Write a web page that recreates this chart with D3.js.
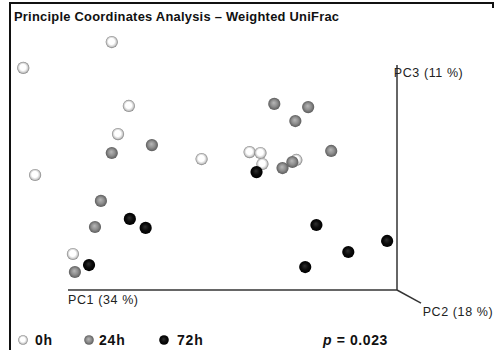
<!DOCTYPE html>
<html>
<head>
<meta charset="utf-8">
<script src="https://cdn.jsdelivr.net/npm/d3@7/dist/d3.min.js"></script>
<style>
  html, body { margin: 0; padding: 0; background: #fff; }
  svg { display: block; font-family: "Liberation Sans", Arial, sans-serif; }
</style>
</head>
<body>
<svg id="chart" width="494" height="350"></svg>
<script>
// Projected PCoA coordinates (PC1 horizontal, PC3 vertical, arbitrary units)
const groups = ["0h", "24h", "72h"];
const pc1_0h  = [13.3, -13.6, 18.5, 15.2, -10.0, 40.6, 55.2, 58.5, 59.1, 69.4, 1.5];
const pc3_0h  = [110.2, 98.7, 81.8, 69.3, 51.1, 58.2, 61.3, 60.9, 56.0, 57.8, 16.0];
const pc1_24h = [62.7, 73.0, 69.1, 80.0, 25.5, 13.3, 65.2, 68.2, 10.0, 8.2, 2.1];
const pc3_24h = [82.7, 81.3, 75.1, 61.8, 64.4, 60.9, 54.2, 56.9, 39.6, 28.0, 8.0];
const pc1_72h = [57.3, 18.8, 23.6, 6.4, 75.5, 97.0, 85.2, 72.1];
const pc3_72h = [52.4, 31.6, 27.6, 11.1, 28.9, 21.8, 16.9, 10.2];
const axisLabels = ["PC1 (34 %)", "PC2 (18 %)", "PC3 (11 %)"];
const title = "Principle Coordinates Analysis \u2013 Weighted UniFrac";
const pValue = "0.023";

const svg = d3.select("#chart");
const x = d3.scaleLinear().domain([0, 100]).range([68, 397]);
const y = d3.scaleLinear().domain([0, 100]).range([290, 65]);

// gradients
const defs = svg.append("defs");
const gradSpecs = {
  "0h":  [[0, "#ffffff"], [0.5, "#ffffff"], [0.78, "#cfcfcf"], [1, "#7a7a7a"]],
  "24h": [[0, "#b8b8b8"], [0.55, "#8e8e8e"], [1, "#5c5c5c"]],
  "72h": [[0, "#303030"], [0.55, "#0c0c0c"], [1, "#000000"]]
};
groups.forEach((g, i) => {
  const rg = defs.append("radialGradient").attr("id", "g" + i)
    .attr("cx", "50%").attr("cy", "50%").attr("r", "50%")
    .attr("fx", "45%").attr("fy", "40%");
  gradSpecs[g].forEach(s => rg.append("stop").attr("offset", s[0]).attr("stop-color", s[1]));
});

// frame
svg.append("path").attr("d", "M10,350 V3 H493 V8")
  .attr("fill", "none").attr("stroke", "#111").attr("stroke-width", 2);

// title
svg.append("text").attr("x", 14).attr("y", 21).attr("font-size", 12.9)
  .attr("font-weight", "bold").attr("letter-spacing", 0.25).attr("fill", "#111").text(title);

// 3D axes
const axCol = "#333";
svg.append("line").attr("x1", x(0)).attr("y1", y(0)).attr("x2", x(100)).attr("y2", y(0))
  .attr("stroke", axCol).attr("stroke-width", 1.5);
svg.append("line").attr("x1", x(100)).attr("y1", y(0)).attr("x2", x(100)).attr("y2", y(100))
  .attr("stroke", axCol).attr("stroke-width", 1.5);
svg.append("line").attr("x1", x(100)).attr("y1", y(0)).attr("x2", x(107.3)).attr("y2", y(-5.8))
  .attr("stroke", axCol).attr("stroke-width", 1.5);

const labStyle = sel => sel.attr("font-size", 12.5).attr("letter-spacing", 0.6).attr("fill", "#222");
labStyle(svg.append("text").attr("x", x(0)).attr("y", y(0) + 13.5).text(axisLabels[0]));
labStyle(svg.append("text").attr("x", x(107.8)).attr("y", y(-5.8) + 13).text(axisLabels[1]));
labStyle(svg.append("text").attr("x", x(99)).attr("y", y(100) + 12).text(axisLabels[2]));

// points
const data = [
  {g: 0, xs: pc1_0h, ys: pc3_0h},
  {g: 1, xs: pc1_24h, ys: pc3_24h},
  {g: 2, xs: pc1_72h, ys: pc3_72h}
];
data.forEach(d => {
  svg.append("g").selectAll("circle")
    .data(d.xs.map((v, i) => [v, d.ys[i]]))
    .join("circle")
    .attr("cx", p => x(p[0]))
    .attr("cy", p => y(p[1]))
    .attr("r", 6.1)
    .attr("fill", "url(#g" + d.g + ")");
});

// legend
const legX = [23, 89, 164];
const legTextX = [35, 99, 177];
groups.forEach((g, i) => {
  svg.append("circle").attr("cx", legX[i]).attr("cy", 340).attr("r", 4.8)
    .attr("fill", "url(#g" + i + ")");
  svg.append("text").attr("x", legTextX[i]).attr("y", 345).attr("font-size", 14)
    .attr("font-weight", "bold").attr("letter-spacing", 0.8).attr("fill", "#111").text(g);
});
const pt = svg.append("text").attr("x", 323).attr("y", 345).attr("font-size", 14)
  .attr("font-weight", "bold").attr("letter-spacing", 0.6).attr("fill", "#111");
pt.append("tspan").attr("font-style", "italic").text("p");
pt.append("tspan").text(" = " + pValue);
</script>
</body>
</html>
